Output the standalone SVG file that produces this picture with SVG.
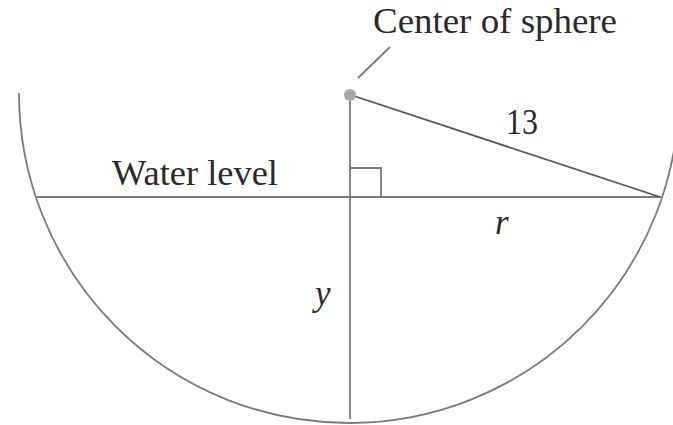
<svg xmlns="http://www.w3.org/2000/svg" width="673" height="425" viewBox="0 0 673 425">
<style>
.ln{fill:none;stroke:#7a7a7a;stroke-width:1.8}
.dk{fill:none;stroke:#555;stroke-width:1.8}
.t{font-size:35px;fill:#2a2a2a}
.i{font-style:italic}
</style>
<rect width="673" height="425" fill="#fff"/>
<g id="sphere">
<path class="ln" d="M19 93 A330 330 0 0 0 679 93" stroke-width="2.2"/>
</g>
<g id="connectors">
<line class="ln" x1="37" y1="197" x2="661" y2="197"/>
<line class="ln" x1="350" y1="95" x2="350" y2="419"/>
<line class="dk" x1="351" y1="95" x2="660" y2="197"/>
<polyline class="ln" points="350,168 381,168 381,197"/>
<line class="ln" x1="390" y1="47" x2="358" y2="78"/>
</g>
<g font-family="Liberation Serif, Times New Roman, Times, serif">
<g id="center">
<circle cx="350" cy="95" r="6" fill="#a8a8a8"/>
<text class="t" x="373" y="33" textLength="244" lengthAdjust="spacingAndGlyphs">Center of sphere</text>
</g>
<g id="water">
<text class="t" x="112" y="185" textLength="166" lengthAdjust="spacingAndGlyphs">Water level</text>
</g>
<g id="labels">
<text class="t" x="506" y="134" textLength="32" lengthAdjust="spacingAndGlyphs">13</text>
<text class="t i" x="495" y="234">r</text>
<text class="t i" x="315" y="305">y</text>
</g>
</g>
</svg>
